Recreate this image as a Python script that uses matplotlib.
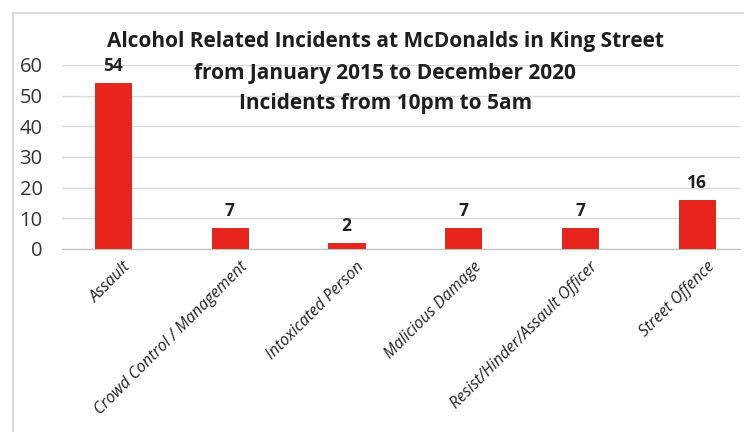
import matplotlib.pyplot as plt
from matplotlib.patches import Rectangle
from matplotlib.transforms import ScaledTranslation

categories = ["Assault", "Crowd Control / Management", "Intoxicated Person",
              "Malicious Damage", "Resist/Hinder/Assault Officer", "Street Offence"]
incidents = [54, 7, 2, 7, 7, 16]
yticks = [0, 10, 20, 30, 40, 50, 60]
title_lines = ["Alcohol Related Incidents at McDonalds in King Street",
               "from January 2015 to December 2020",
               "Incidents from 10pm to 5am"]

plt.rcParams['font.family'] = ['Open Sans', 'DejaVu Sans']

fig = plt.figure(figsize=(7.44, 4.32), dpi=100)
# outer chart frame
fig.patches.append(Rectangle((13 / 744, -0.1), 1.0, 1 - 13 / 432 + 0.1,
                             transform=fig.transFigure, fill=False,
                             edgecolor='#d4d4d4', linewidth=1.2))

ax = fig.add_axes([62 / 744, 1 - 249 / 432, (740 - 62) / 744, (249 - 65) / 432])
x = range(len(categories))
ax.bar(x, incidents, width=0.31, color='#e8241c', edgecolor='#c81c16', linewidth=0.6, zorder=3)

for xi, v in zip(x, incidents):
    ax.text(xi, v + 2.6, str(v), ha='center', va='bottom', fontsize=12.5,
            fontweight='bold', color='#222222', zorder=4)

ax.set_xlim(-0.437, 5.37)
ax.set_ylim(0, 60)
ax.set_yticks(yticks)
ax.yaxis.grid(True, color='#d9d9d9', linewidth=1, zorder=0)
for s in ['top', 'right', 'left']:
    ax.spines[s].set_visible(False)
ax.spines['bottom'].set_color('#bfbfbf')
ax.spines['bottom'].set_zorder(5)
ax.tick_params(axis='y', length=0, labelsize=14.5, labelcolor='#333333', pad=14)
ax.tick_params(axis='x', length=0, pad=7)
ax.set_xticks(list(x))
ax.set_xticklabels(categories, rotation=45, ha='right', rotation_mode='anchor',
                   fontsize=11.5, style='italic', color='#222222')
shift = ScaledTranslation(10 / 100, 0, fig.dpi_scale_trans)
for lab in ax.get_xticklabels():
    lab.set_transform(lab.get_transform() + shift)

# title, one text per line
for i, line in enumerate(title_lines):
    fig.text(0.518, 1 - (42 + 31 * i) / 432, line, ha='center', va='center',
             fontsize=15, fontweight='bold', color='#1e1e1e')

fig.savefig('out.png', dpi=100)
